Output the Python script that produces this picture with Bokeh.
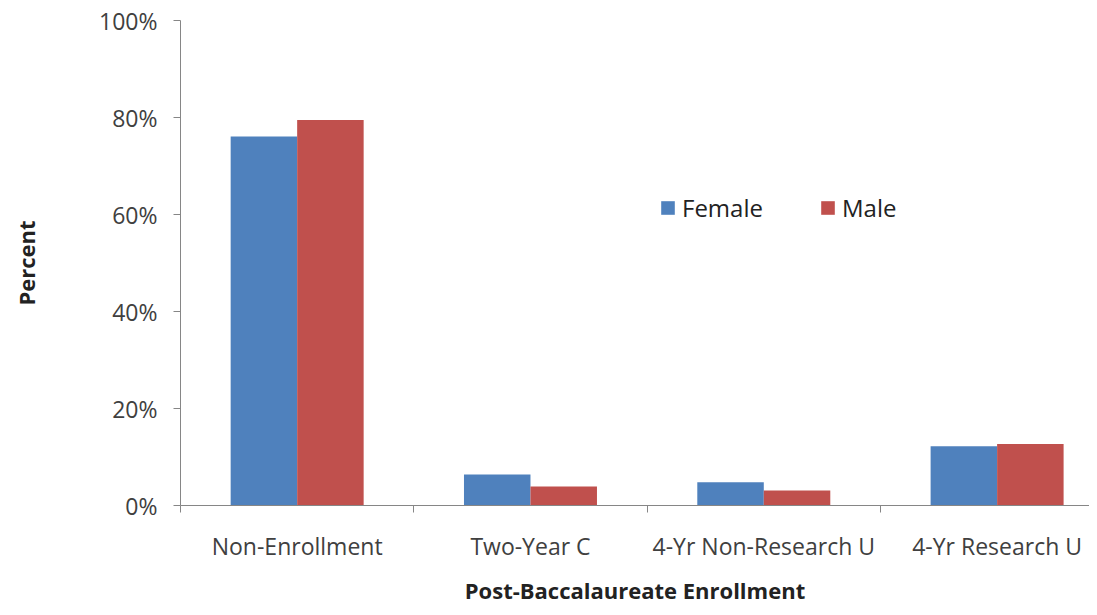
from bokeh.plotting import figure
from bokeh.models import FixedTicker, NumeralTickFormatter, Legend, LegendItem, Range1d
from bokeh.embed import file_html
from bokeh.resources import INLINE

categories = ["Non-Enrollment", "Two-Year C", "4-Yr Non-Research U", "4-Yr Research U"]
female = [0.761, 0.064, 0.048, 0.122]
male = [0.795, 0.039, 0.031, 0.127]
series_names = ["Female", "Male"]
colors = ["#4F81BD", "#C0504D"]

FONT = "Open Sans"
TXT = "#404040"

p = figure(width=1089, height=607, output_backend="svg", toolbar_location=None,
           x_range=Range1d(0, 3.896), y_range=Range1d(0, 1),
           min_border_left=180, min_border_right=0, min_border_top=20, min_border_bottom=10)
p.outline_line_color = None
p.xgrid.visible = False
p.ygrid.visible = False

bar_w = 0.285
idx = list(range(len(categories)))
centers = [i + 0.5 for i in idx]
r_f = p.vbar(x=[c - bar_w / 2 for c in centers], top=female, width=bar_w,
             color=colors[0], line_color=None)
r_m = p.vbar(x=[c + bar_w / 2 for c in centers], top=male, width=bar_w,
             color=colors[1], line_color=None)

# x axis
xa = p.xaxis[0]
xa.ticker = FixedTicker(ticks=centers, minor_ticks=[float(i) for i in range(len(categories))])
xa.major_label_overrides = {c: lab for c, lab in zip(centers, categories)}
xa.major_tick_line_color = None
xa.major_tick_out = 6
xa.minor_tick_out = 7
xa.minor_tick_in = 0
xa.minor_tick_line_color = "#868686"
xa.axis_line_color = "#868686"
xa.major_label_standoff = 17
xa.major_label_text_font = FONT
xa.major_label_text_font_size = "23px"
xa.major_label_text_color = TXT
xa.axis_label = "Post-Baccalaureate Enrollment"
xa.axis_label_text_font = FONT
xa.axis_label_text_font_size = "22px"
xa.axis_label_text_font_style = "bold"
xa.axis_label_text_color = "#222222"
xa.axis_label_standoff = 10

# y axis
ya = p.yaxis[0]
ya.ticker = FixedTicker(ticks=[0, 0.2, 0.4, 0.6, 0.8, 1.0], minor_ticks=[])
ya.formatter = NumeralTickFormatter(format="0%")
ya.axis_line_color = "#868686"
ya.major_tick_line_color = "#868686"
ya.major_tick_out = 7
ya.major_tick_in = 0
ya.major_label_standoff = 16
ya.major_label_text_font = FONT
ya.major_label_text_font_size = "23px"
ya.major_label_text_color = TXT
ya.axis_label = "Percent"
ya.axis_label_text_font = FONT
ya.axis_label_text_font_size = "22px"
ya.axis_label_text_font_style = "bold"
ya.axis_label_text_color = "#222222"
ya.axis_label_standoff = 55

legend = Legend(items=[LegendItem(label=series_names[0], renderers=[r_f]),
                       LegendItem(label=series_names[1], renderers=[r_m])],
                orientation="horizontal", location=(479, 281),
                padding=0, margin=0, spacing=56, border_line_color=None,
                background_fill_alpha=0, glyph_width=17, glyph_height=17,
                label_text_font=FONT, label_text_font_size="24px",
                label_text_color="#222222", label_standoff=6)
p.add_layout(legend)

open("out.html", "w").write(file_html(p, INLINE))
